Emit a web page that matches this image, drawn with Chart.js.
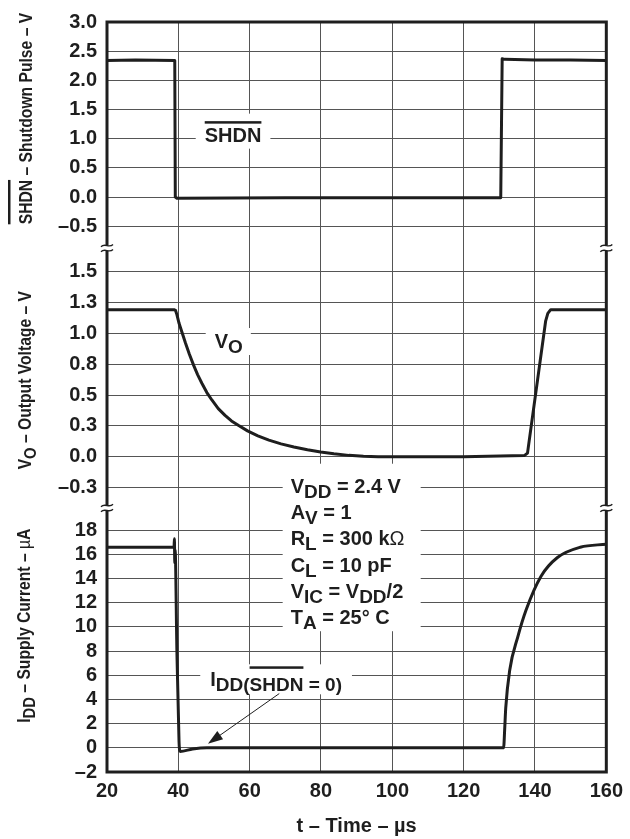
<!DOCTYPE html>
<html lang="en">
<head>
<meta charset="UTF-8">
<title>Shutdown response vs time</title>
<script src="https://cdn.jsdelivr.net/npm/chart.js@4"></script>
<style>
  html, body { margin: 0; padding: 0; background: #fff; }
  canvas { display: block; }
</style>
</head>
<body>
<canvas id="chart" width="630" height="839"></canvas>
<script>
// time axis, µs
const timeTicks = [20, 40, 60, 80, 100, 120, 140, 160];

// SHDN pulse (V)
const shdnTime  = [20, 28, 39.0, 39.15, 39.6, 70, 130.4, 130.8, 131.5, 140, 150, 160];
const shdnVolts = [2.34, 2.35, 2.34, 0.0, -0.02, -0.01, -0.01, 2.37, 2.36, 2.35, 2.35, 2.34];
const shdnTickValues = [-0.5, 0, 0.5, 1, 1.5, 2, 2.5, 3];
const shdnTickLabels = ['–0.5', '0.0', '0.5', '1.0', '1.5', '2.0', '2.5', '3.0'];

// output voltage VO (V)
const voTime  = [20, 38.8, 39.2, 39.6, 40.2, 41.0, 42.0, 43.1, 44.3, 45.4, 46.6, 48.0, 49.4, 51.2, 53.1, 54.9, 56.8, 59.4, 62.3, 65.4, 68.8, 72.4, 76.2, 79.9, 83.6, 87.8, 91.9, 96, 120, 137.0, 137.9, 143.0, 143.6, 144.4, 160];
const voVolts = [1.19, 1.19, 1.185, 1.15, 1.08, 1.01, 0.92, 0.83, 0.74, 0.665, 0.595, 0.52, 0.46, 0.39, 0.335, 0.29, 0.255, 0.21, 0.17, 0.135, 0.105, 0.08, 0.058, 0.04, 0.025, 0.012, 0.004, 0.0, 0.0, 0.01, 0.03, 1.10, 1.16, 1.19, 1.19];
const voTickValues = [-0.25, 0, 0.25, 0.5, 0.75, 1, 1.25, 1.5];
const voTickLabels = ['–0.3', '0.0', '0.3', '0.5', '0.8', '1.0', '1.3', '1.5'];

// supply current IDD (µA)
const iddTime      = [20, 30, 38.8, 38.9, 39.0, 39.1, 39.6, 40.2, 40.5, 44, 48, 80, 131.2, 131.5, 131.8, 132.9, 135.2, 137.5, 141.7, 146.3, 152.7, 160];
const iddMicroAmps = [16.6, 16.6, 16.6, 17.3, 15.3, 16.4, 8.0, 0.5, -0.3, -0.1, 0.0, 0.0, 0.0, 1.5, 3.3, 6.4, 9.2, 11.4, 14.2, 15.75, 16.6, 16.85];
const iddTickValues = [-2, 0, 2, 4, 6, 8, 10, 12, 14, 16, 18];
const iddTickLabels = ['–2', '0', '2', '4', '6', '8', '10', '12', '14', '16', '18'];

const FONT = '"Liberation Sans", Arial, sans-serif';
const INK = '#1e1e1e';
const GRID = '#555';

function toPoints(xs, ys) {
  return xs.map((x, i) => ({ x: x, y: ys[i] }));
}

function yAxis(min, max, stackWeight, order, values, labels) {
  return {
    type: 'linear',
    position: 'left',
    stack: 'panels',
    stackWeight: stackWeight,
    weight: order,
    min: min,
    max: max,
    border: { display: false },
    grid: { color: GRID, lineWidth: 1, drawTicks: false },
    ticks: {
      padding: 10,
      autoSkip: false,
      color: INK,
      font: { family: FONT, size: 20, weight: 'bold' },
      callback: (v, i) => labels[i]
    },
    afterBuildTicks: s => { s.ticks = values.map(v => ({ value: v })); },
    afterFit: s => { s.width = 107; }
  };
}

// rich text: parts may be subscript, plain weight or carry an overline
function partsWidth(ctx, parts, size) {
  let w = 0;
  for (const p of parts) {
    const fs = p.sub ? size * 0.95 : size;
    ctx.font = (p.plain ? 'normal ' : 'bold ') + fs + 'px ' + FONT;
    w += ctx.measureText(p.t).width;
  }
  return w;
}

function drawParts(ctx, parts, x, y, size) {
  let cx = x;
  for (const p of parts) {
    const fs = p.sub ? size * 0.95 : size;
    const dy = p.sub ? Math.round(size * 0.27) : 0;
    ctx.font = (p.plain ? 'normal ' : 'bold ') + fs + 'px ' + FONT;
    ctx.fillText(p.t, cx, y + dy);
    const w = ctx.measureText(p.t).width;
    if (p.over) ctx.fillRect(cx, y + dy - p.over, w, 2.5);
    cx += w;
  }
  return cx - x;
}

// white patch behind a label, then the label
function boxedLabel(ctx, parts, x, y, size, pad) {
  const w = partsWidth(ctx, parts, size);
  ctx.fillStyle = '#fff';
  ctx.fillRect(x - pad[0], y - pad[1], w + pad[0] + pad[2], pad[1] + pad[3]);
  ctx.fillStyle = INK;
  drawParts(ctx, parts, x, y, size);
}

function drawBreak(ctx, cx, cy) {
  ctx.fillStyle = '#fff';
  ctx.fillRect(cx - 4, cy - 2.5, 8, 5);
  ctx.strokeStyle = INK;
  ctx.lineWidth = 1.4;
  for (const dy of [-2.5, 2.5]) {
    ctx.beginPath();
    ctx.moveTo(cx - 6, cy + dy + 1.2);
    ctx.bezierCurveTo(cx - 2, cy + dy - 3, cx + 2, cy + dy + 3, cx + 6, cy + dy - 1.2);
    ctx.stroke();
  }
}

const conditions = [
  [{ t: 'V' }, { t: 'DD', sub: true }, { t: ' = 2.4 V' }],
  [{ t: 'A' }, { t: 'V', sub: true }, { t: ' = 1' }],
  [{ t: 'R' }, { t: 'L', sub: true }, { t: ' = 300 k' }, { t: 'Ω', plain: true }],
  [{ t: 'C' }, { t: 'L', sub: true }, { t: ' = 10 pF' }],
  [{ t: 'V' }, { t: 'IC', sub: true }, { t: ' = V' }, { t: 'DD', sub: true }, { t: '/2' }],
  [{ t: 'T' }, { t: 'A', sub: true }, { t: ' = 25° C' }]
];

const decorations = {
  id: 'decorations',
  afterDatasetsDraw(chart) {
    const { ctx, chartArea: a, scales } = chart;
    const x = scales.x, ys = scales.yShdn, yv = scales.yVo, yi = scales.yIdd;
    ctx.save();
    ctx.textBaseline = 'alphabetic';
    ctx.textAlign = 'left';

    boxedLabel(ctx, [{ t: 'SHDN', over: 20.5 }], x.getPixelForValue(47.4), ys.getPixelForValue(0.95), 20, [9, 28, 9, 7]);
    boxedLabel(ctx, [{ t: 'V' }, { t: 'O', sub: true }], x.getPixelForValue(50.2), yv.getPixelForValue(0.88), 20, [9, 20, 8, 7]);

    // test conditions block
    const cx = x.getPixelForValue(71.5);
    const cy = yv.getPixelForValue(-0.29);
    const lineGap = 26.3;
    ctx.fillStyle = '#fff';
    ctx.fillRect(cx - 8, cy - 29, 138, 29 + lineGap * 5 + 7);
    ctx.fillStyle = INK;
    conditions.forEach((parts, i) => drawParts(ctx, parts, cx, cy + i * lineGap, 20));

    // IDD(SHDN = 0) label and its arrow
    boxedLabel(ctx, [{ t: 'I' }, { t: 'DD(', sub: true }, { t: 'SHDN', sub: true, over: 25 }, { t: ' = 0)', sub: true }],
      x.getPixelForValue(48.95), yi.getPixelForValue(5.09), 20, [10, 22, 10, 8]);
    const tx = x.getPixelForValue(68.3), ty = yi.getPixelForValue(4.49);
    const hx = x.getPixelForValue(48.3), hy = yi.getPixelForValue(0.34);
    const ang = Math.atan2(hy - ty, hx - tx);
    ctx.strokeStyle = INK;
    ctx.lineWidth = 1;
    ctx.beginPath();
    ctx.moveTo(tx, ty);
    ctx.lineTo(hx - 12 * Math.cos(ang), hy - 12 * Math.sin(ang));
    ctx.stroke();
    ctx.fillStyle = INK;
    ctx.beginPath();
    ctx.moveTo(hx, hy);
    ctx.lineTo(hx - 15 * Math.cos(ang) + 5 * Math.sin(ang), hy - 15 * Math.sin(ang) - 5 * Math.cos(ang));
    ctx.lineTo(hx - 15 * Math.cos(ang) - 5 * Math.sin(ang), hy - 15 * Math.sin(ang) + 5 * Math.cos(ang));
    ctx.closePath();
    ctx.fill();

    // frame and axis breaks
    ctx.strokeStyle = INK;
    ctx.lineWidth = 3;
    ctx.strokeRect(a.left, a.top, a.right - a.left, a.bottom - a.top);
    for (const yb of [ys.bottom, yv.bottom]) {
      drawBreak(ctx, a.left, yb);
      drawBreak(ctx, a.right, yb);
    }
    ctx.restore();
  },
  afterDraw(chart) {
    const { ctx, scales } = chart;
    const titles = [
      { parts: [{ t: 'SHDN', over: 24 }, { t: ' – Shutdown Pulse – V' }], x: 32, y: scales.yShdn.getPixelForValue(1.345) },
      { parts: [{ t: 'V' }, { t: 'O', sub: true }, { t: ' – Output Voltage – V' }], x: 31, y: scales.yVo.getPixelForValue(0.62) },
      { parts: [{ t: 'I' }, { t: 'DD', sub: true }, { t: ' – Supply Current – ' }, { t: 'µ', plain: true }, { t: 'A' }], x: 29.5, y: scales.yIdd.getPixelForValue(10.1) }
    ];
    ctx.save();
    ctx.fillStyle = INK;
    ctx.textBaseline = 'alphabetic';
    ctx.textAlign = 'left';
    for (const tt of titles) {
      ctx.save();
      ctx.translate(tt.x, tt.y);
      ctx.rotate(-Math.PI / 2);
      ctx.scale(0.87, 1);
      const w = partsWidth(ctx, tt.parts, 18);
      drawParts(ctx, tt.parts, -w / 2, 0, 18);
      ctx.restore();
    }
    ctx.restore();
  }
};

const lineStyle = {
  borderColor: INK,
  borderWidth: 3,
  pointRadius: 0,
  borderJoinStyle: 'round',
  fill: false
};

new Chart(document.getElementById('chart').getContext('2d'), {
  type: 'line',
  data: {
    datasets: [
      Object.assign({ label: 'SHDN', data: toPoints(shdnTime, shdnVolts), yAxisID: 'yShdn', tension: 0 }, lineStyle),
      Object.assign({ label: 'VO', data: toPoints(voTime, voVolts), yAxisID: 'yVo', tension: 0 }, lineStyle),
      Object.assign({ label: 'IDD', data: toPoints(iddTime, iddMicroAmps), yAxisID: 'yIdd', cubicInterpolationMode: 'monotone' }, lineStyle)
    ]
  },
  options: {
    responsive: false,
    animation: false,
    devicePixelRatio: 1,
    layout: { padding: { top: 19, right: 17, left: 0, bottom: 0 } },
    plugins: { legend: { display: false }, tooltip: { enabled: false } },
    scales: {
      x: {
        type: 'linear',
        min: 20,
        max: 160,
        border: { display: false },
        grid: { color: GRID, lineWidth: 1, drawTicks: false },
        ticks: {
          padding: 7,
          autoSkip: false,
          color: INK,
          maxRotation: 0,
          font: { family: FONT, size: 20, weight: 'bold' },
          callback: v => String(v)
        },
        afterBuildTicks: s => { s.ticks = timeTicks.map(v => ({ value: v })); },
        afterFit: s => { s.height = 67; },
        title: {
          display: true,
          text: 't – Time – µs',
          color: INK,
          font: { family: FONT, size: 20, weight: 'bold' },
          padding: { top: 4, bottom: 1 }
        }
      },
      yShdn: yAxis(-0.874, 3.0, 227, 3, shdnTickValues, shdnTickLabels),
      yVo: yAxis(-0.414, 1.688, 261, 2, voTickValues, voTickLabels),
      yIdd: yAxis(-2, 19.84, 265, 1, iddTickValues, iddTickLabels)
    }
  },
  plugins: [decorations]
});
</script>
</body>
</html>
